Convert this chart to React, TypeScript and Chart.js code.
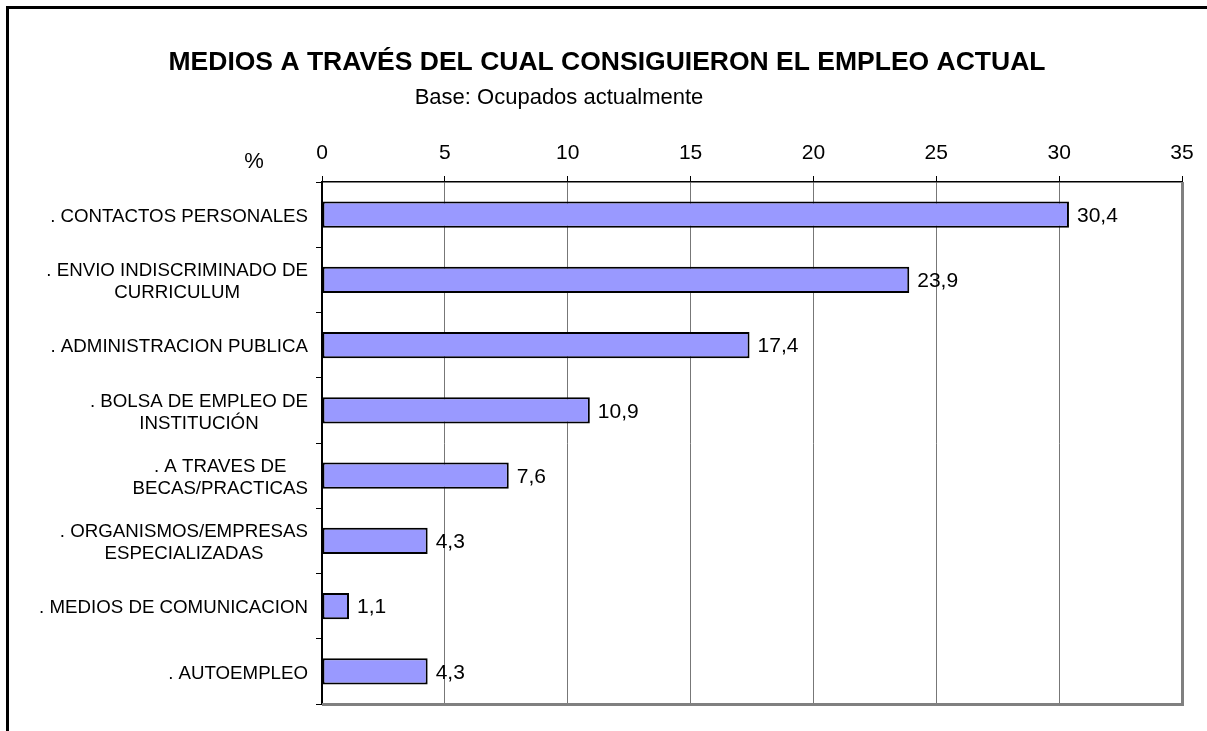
import React, { useEffect, useRef } from "react";
import { Chart, registerables } from "chart.js";

Chart.register(...registerables);

const titleText = "MEDIOS A TRAVÉS DEL CUAL CONSIGUIERON EL EMPLEO ACTUAL";
const subtitleText = "Base: Ocupados actualmente";
const axisUnit = "%";

const categories: string[][] = [
  [". CONTACTOS PERSONALES"],
  [". ENVIO INDISCRIMINADO DE", "CURRICULUM"],
  [". ADMINISTRACION PUBLICA"],
  [". BOLSA DE EMPLEO DE", "INSTITUCIÓN"],
  [". A TRAVES DE", "BECAS/PRACTICAS"],
  [". ORGANISMOS/EMPRESAS", "ESPECIALIZADAS"],
  [". MEDIOS DE COMUNICACION"],
  [". AUTOEMPLEO"],
];
const values = [30.4, 23.9, 17.4, 10.9, 7.6, 4.3, 1.1, 4.3];
const xMin = 0;
const xMax = 35;
const xStep = 5;

const FONT = "Arial, 'Liberation Sans', sans-serif";

const overlayPlugin = {
  id: "overlay",
  afterDraw(chart: any) {
    const ctx = chart.ctx as CanvasRenderingContext2D;
    const area = chart.chartArea;
    ctx.save();
    // outer frame
    ctx.strokeStyle = "#000";
    ctx.lineWidth = 3;
    ctx.strokeRect(7.5, 7.5, 3000, 3000);

    // plot area right & bottom border (gray)
    ctx.strokeStyle = "#808080";
    ctx.lineWidth = 3;
    ctx.beginPath();
    ctx.moveTo(area.right + 0.5, area.top);
    ctx.lineTo(area.right + 0.5, area.bottom + 0.5);
    ctx.lineTo(area.left, area.bottom + 0.5);
    ctx.stroke();

    // titles
    ctx.fillStyle = "#000";
    ctx.textAlign = "center";
    ctx.textBaseline = "middle";
    ctx.font = `bold 26.5px ${FONT}`;
    ctx.fillText(titleText, 607, 63);
    ctx.font = `22px ${FONT}`;
    ctx.fillText(subtitleText, 559, 98);
    ctx.font = `22px ${FONT}`;
    ctx.fillText(axisUnit, 254, 162);

    // category labels
    const yScale = chart.scales.y;
    ctx.font = `18.7px ${FONT}`;
    const lineH = 22;
    categories.forEach((lines, i) => {
      const cy = yScale.getPixelForValue(i) + 2;
      const w = Math.max(...lines.map((l) => ctx.measureText(l).width));
      const cx = 308 - w / 2;
      const startY = cy - ((lines.length - 1) * lineH) / 2;
      lines.forEach((l, j) => {
        ctx.fillText(l, cx, startY + j * lineH);
      });
    });

    // value labels
    const meta = chart.getDatasetMeta(0);
    ctx.font = `21px ${FONT}`;
    ctx.textAlign = "left";
    meta.data.forEach((bar: any, i: number) => {
      const txt = values[i].toFixed(1).replace(".", ",");
      ctx.fillText(txt, bar.x + 8, bar.y + 1.5);
    });
    ctx.restore();
  },
};

export default function App() {
  const ref = useRef<HTMLCanvasElement>(null);
  useEffect(() => {
    if (!ref.current) return;
    const chart = new Chart(ref.current, {
      type: "bar",
      data: {
        labels: categories.map((c) => c.join(" ")),
        datasets: [
          {
            data: values,
            backgroundColor: "#9999FF",
            borderColor: "#000",
            borderWidth: 2,
            borderSkipped: false,
            barPercentage: 0.4,
            categoryPercentage: 1,
          },
        ],
      },
      options: {
        indexAxis: "y",
        animation: false,
        responsive: false,
        events: [],
        layout: { padding: { left: 0, top: 0, right: 25, bottom: 27 } },
        plugins: {
          legend: { display: false },
          title: { display: false },
          tooltip: { enabled: false },
        },
        scales: {
          x: {
            type: "linear",
            position: "top",
            min: xMin,
            max: xMax,
            ticks: {
              stepSize: xStep,
              color: "#000",
              font: { family: FONT, size: 21 },
              padding: 10,
            },
            grid: {
              color: "#777",
              lineWidth: 1,
              tickLength: 6,
              tickColor: "#000",
            },
            border: { display: true, color: "#000", width: 1.5 },
            afterFit(scale: any) {
              scale.height = 182;
            },
          },
          y: {
            type: "category",
            offset: true,
            ticks: { display: false },
            grid: {
              offset: true,
              drawOnChartArea: false,
              tickLength: 6,
              color: "#000",
            },
            border: { display: true, color: "#000", width: 2 },
            afterFit(scale: any) {
              scale.width = 322;
            },
          },
        },
      },
      plugins: [overlayPlugin],
    });
    return () => chart.destroy();
  }, []);
  return (
    <div style={{ position: "fixed", left: 0, top: 0, width: 1207, height: 731, background: "#fff" }}>
      <canvas ref={ref} width={1207} height={731} style={{ display: "block" }} />
    </div>
  );
}
